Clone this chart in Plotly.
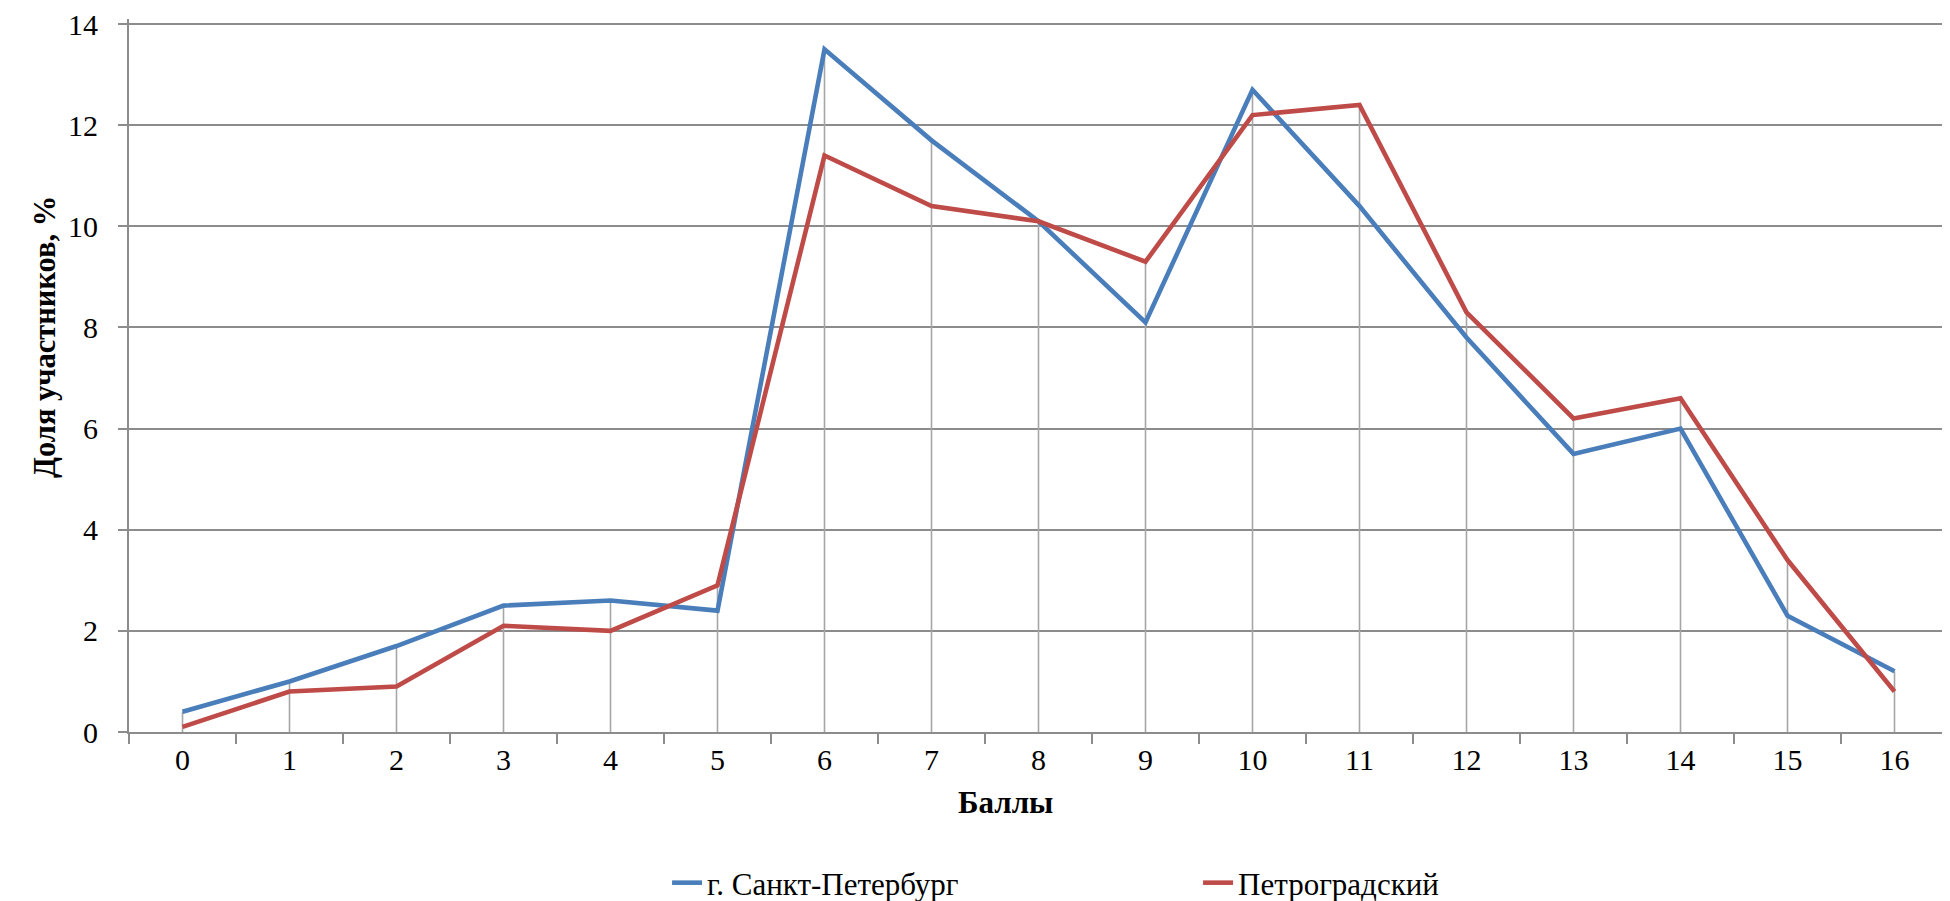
import plotly.graph_objects as go

# Scores and shares of participants, %
scores = [str(i) for i in range(17)]
spb = [0.4, 1.0, 1.7, 2.5, 2.6, 2.4, 13.5, 11.7, 10.1, 8.1, 12.7, 10.4, 7.8, 5.5, 6.0, 2.3, 1.2]
petrograd = [0.1, 0.8, 0.9, 2.1, 2.0, 2.9, 11.4, 10.4, 10.1, 9.3, 12.2, 12.4, 8.3, 6.2, 6.6, 3.4, 0.8]

spb_name = "г. Санкт-Петербург"
petrograd_name = "Петроградский"
x_title = "Баллы"
y_title = "Доля участников, %"

FONT = "Liberation Serif, Times New Roman, serif"
GRID = "#8C8C8C"

# Drop lines from the highest point of each category down to the axis
drop_x = []
drop_y = []
for s, a, b in zip(scores, spb, petrograd):
    drop_x += [s, s, None]
    drop_y += [0, max(a, b), None]

fig = go.Figure()
fig.add_trace(go.Scatter(
    x=drop_x, y=drop_y, mode="lines",
    line=dict(color="#A6A6A6", width=1.6),
    showlegend=False, hoverinfo="skip"
))
fig.add_trace(go.Scatter(
    x=scores, y=spb, mode="lines", name=spb_name,
    line=dict(color="#4A7EBB", width=4.6)
))
fig.add_trace(go.Scatter(
    x=scores, y=petrograd, mode="lines", name=petrograd_name,
    line=dict(color="#BE4B48", width=4.6)
))

# the page body has an 8px margin, so the figure is a bit smaller than the window
fig.update_layout(
    width=1942, height=893,
    margin=dict(l=121, r=2, t=11, b=169, autoexpand=False),
    plot_bgcolor="white", paper_bgcolor="white",
    font=dict(family=FONT, size=30, color="black"),
    showlegend=True,
    legend=dict(
        orientation="h", x=0.2958, y=-0.2118, xanchor="left", yanchor="middle",
        font=dict(family=FONT, size=31), entrywidth=486, entrywidthmode="pixels",
        bgcolor="rgba(0,0,0,0)"
    ),
    annotations=[
        dict(text="<b>" + x_title + "</b>", xref="paper", yref="paper",
             x=0.4816, y=-0.1262, showarrow=False, font=dict(family=FONT, size=31)),
        dict(text="<b>" + y_title + "</b>", xref="paper", yref="paper",
             x=-0.0566, y=0.554, textangle=-90, showarrow=False,
             font=dict(family=FONT, size=30.5)),
    ],
)
fig.update_xaxes(
    type="category", range=[-0.5, 16.5],
    tickson="boundaries", ticks="outside", ticklen=10, tickwidth=2, tickcolor=GRID,
    showline=True, linecolor=GRID, linewidth=2,
    showgrid=False, zeroline=False,
)
fig.update_yaxes(
    range=[0, 14.1], tickvals=list(range(0, 15, 2)),
    ticks="outside", ticklen=9, tickwidth=2, tickcolor=GRID,
    showline=True, linecolor=GRID, linewidth=2,
    showgrid=True, gridcolor=GRID, gridwidth=2,
    zeroline=False, ticklabelstandoff=14, ticklabeloverflow="allow",
)

fig.write_html("out.html")
